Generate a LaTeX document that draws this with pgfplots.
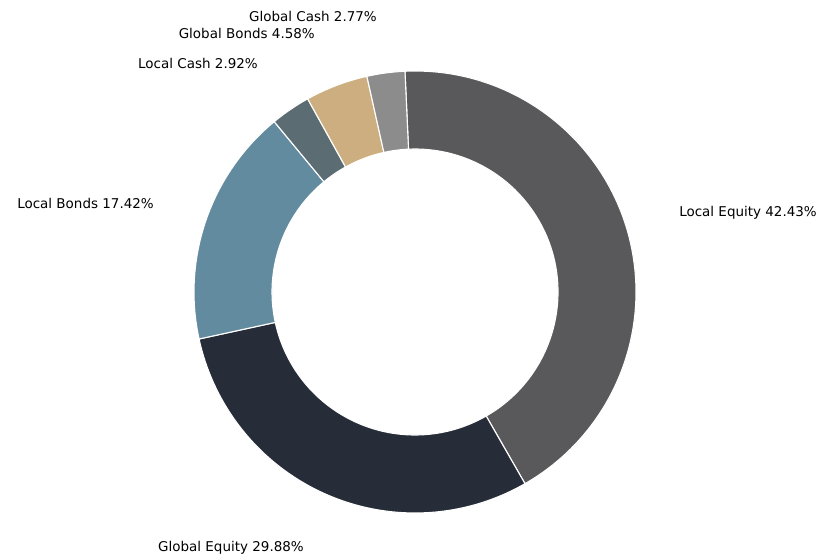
\documentclass[border=0pt]{standalone}
\usepackage{pgfplots}
\usepackage{pgfplotstable}
\pgfplotsset{compat=1.18}
\usepackage{fontspec}
\setmainfont{DejaVu Sans}
\definecolor{cLE}{HTML}{59595B}
\definecolor{cGE}{HTML}{262D38}
\definecolor{cLB}{HTML}{638B9F}
\definecolor{cLC}{HTML}{5B6C72}
\definecolor{cGB}{HTML}{CDAE80}
\definecolor{cGC}{HTML}{8C8C8C}
\pgfplotstableread{
value col
42.43 cLE
29.88 cGE
17.42 cLB
2.92 cLC
4.58 cGB
2.77 cGC
}\piedata
\begin{document}
\begin{tikzpicture}
\begin{axis}[x=0.72pt,y=0.72pt,xmin=0,xmax=830,ymin=0,ymax=559,hide axis,clip=false]
\path (axis cs:0,0) rectangle (axis cs:830,559);
\def\cx{415}\def\cy{267}\def\Rout{221}\def\Rin{143}
\def\cumv{0}
\pgfplotsforeachungrouped \i in {0,...,5}{%
 \pgfplotstablegetelem{\i}{value}\of\piedata \let\sval\pgfplotsretval
 \pgfplotstablegetelem{\i}{col}\of\piedata \let\scol\pgfplotsretval
 \pgfmathsetmacro{\angA}{92.6-3.6*\cumv}%
 \pgfmathsetmacro{\angB}{\angA-3.6*\sval}%
 \pgfmathsetmacro{\xa}{\cx+\Rout*cos(\angA)}%
 \pgfmathsetmacro{\ya}{\cy+\Rout*sin(\angA)}%
 \pgfmathsetmacro{\xb}{\cx+\Rin*cos(\angB)}%
 \pgfmathsetmacro{\yb}{\cy+\Rin*sin(\angB)}%
 \edef\temp{\noexpand\fill[\scol, draw=white, line width=0.8pt] (axis cs:\xa,\ya) arc[start angle=\angA, end angle=\angB, radius=\Rout*0.72pt] -- (axis cs:\xb,\yb) arc[start angle=\angB, end angle=\angA, radius=\Rin*0.72pt] -- cycle;}%
 \temp
 \pgfmathsetmacro{\cumv}{\cumv+\sval}%
}
\tikzset{lab/.style={inner sep=0pt,font=\fontsize{9.7}{11.6}\selectfont}}
\node[lab,anchor=west] at (axis cs:679,346) {Local Equity 42.43\%};
\node[lab,anchor=east] at (axis cs:304,11) {Global Equity 29.88\%};
\node[lab,anchor=east] at (axis cs:154,356) {Local Bonds 17.42\%};
\node[lab,anchor=east] at (axis cs:258,496) {Local Cash 2.92\%};
\node[lab,anchor=east] at (axis cs:315,526) {Global Bonds 4.58\%};
\node[lab,anchor=east] at (axis cs:377,543) {Global Cash 2.77\%};
\end{axis}
\end{tikzpicture}
\end{document}
